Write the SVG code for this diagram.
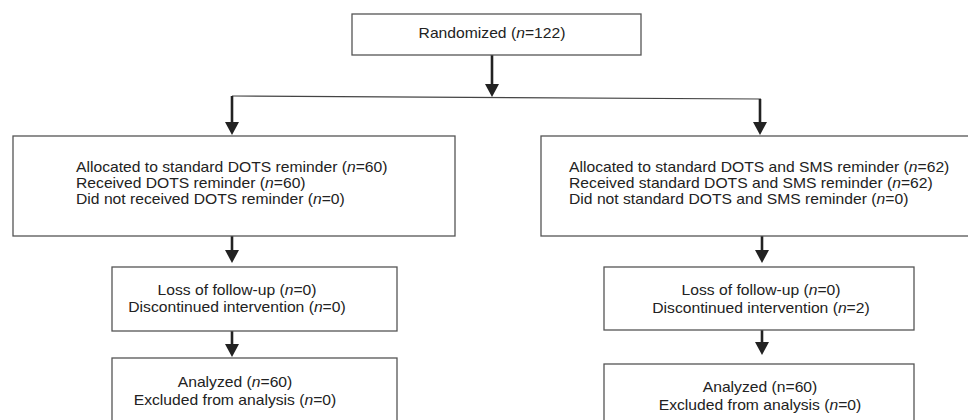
<svg xmlns="http://www.w3.org/2000/svg" width="968" height="420" viewBox="0 0 968 420">
<defs>
<style>
.box{fill:#fff;stroke:#555;stroke-width:1.3}
.t{font-family:"Liberation Sans",Arial,sans-serif;font-size:14px;fill:#222}
.c{text-anchor:middle}
.arr{stroke:#222;stroke-width:2.6;fill:none}
.ln{stroke:#444;stroke-width:1.2;fill:none}
.hd{fill:#222}
</style>
</defs>
<rect width="968" height="420" fill="#fff"/>
<g id="connectors">
<line class="ln" x1="232" y1="96" x2="761" y2="99"/>
<line class="arr" x1="492" y1="55" x2="492" y2="84"/>
<path class="hd" d="M485,84 L499,84 L492,97 Z"/>
<line class="arr" x1="232" y1="96" x2="232" y2="122"/>
<path class="hd" d="M225,122 L239,122 L232,135 Z"/>
<line class="arr" x1="760" y1="99" x2="760" y2="122"/>
<path class="hd" d="M753,122 L767,122 L760,135 Z"/>
<line class="arr" x1="232" y1="236" x2="232" y2="250"/>
<path class="hd" d="M225,250 L239,250 L232,263 Z"/>
<line class="arr" x1="762" y1="236" x2="762" y2="250"/>
<path class="hd" d="M755,250 L769,250 L762,263 Z"/>
<line class="arr" x1="232" y1="331" x2="232" y2="344"/>
<path class="hd" d="M225,344 L239,344 L232,357 Z"/>
<line class="arr" x1="762" y1="330" x2="762" y2="342"/>
<path class="hd" d="M755,342 L769,342 L762,355 Z"/>
</g>
<g id="randomized">
<rect class="box" x="352" y="14" width="289" height="41"/>
<g transform="translate(492,0) scale(1.12,1)">
<text class="t c" x="0" y="38">Randomized (<tspan font-style="italic">n</tspan>=122)</text>
</g>
</g>
<g id="alloc-dots">
<rect class="box" x="13" y="136" width="442" height="100"/>
<g transform="translate(76,0) scale(1.12,1)">
<text class="t" x="0" y="172">Allocated to standard DOTS reminder (<tspan font-style="italic">n</tspan>=60)</text>
<text class="t" x="0" y="188">Received DOTS reminder (<tspan font-style="italic">n</tspan>=60)</text>
<text class="t" x="0" y="204">Did not received DOTS reminder (<tspan font-style="italic">n</tspan>=0)</text>
</g>
</g>
<g id="alloc-sms">
<rect class="box" x="541" y="136" width="430" height="100"/>
<g transform="translate(569,0) scale(1.12,1)">
<text class="t" x="0" y="172">Allocated to standard DOTS and SMS reminder (<tspan font-style="italic">n</tspan>=62)</text>
<text class="t" x="0" y="188">Received standard DOTS and SMS reminder (<tspan font-style="italic">n</tspan>=62)</text>
<text class="t" x="0" y="204">Did not standard DOTS and SMS reminder (<tspan font-style="italic">n</tspan>=0)</text>
</g>
</g>
<g id="followup-dots">
<rect class="box" x="112" y="267" width="285" height="64"/>
<g transform="translate(237,0) scale(1.12,1)">
<text class="t c" x="0" y="295">Loss of follow-up (<tspan font-style="italic">n</tspan>=0)</text>
<text class="t c" x="0" y="312">Discontinued intervention (<tspan font-style="italic">n</tspan>=0)</text>
</g>
</g>
<g id="followup-sms">
<rect class="box" x="604" y="267" width="310" height="63"/>
<g transform="translate(761,0) scale(1.12,1)">
<text class="t c" x="0" y="295">Loss of follow-up (<tspan font-style="italic">n</tspan>=0)</text>
<text class="t c" x="0" y="313">Discontinued intervention (<tspan font-style="italic">n</tspan>=2)</text>
</g>
</g>
<g id="analyzed-dots">
<rect class="box" x="112" y="358" width="285" height="70"/>
<g transform="translate(235,0) scale(1.12,1)">
<text class="t c" x="0" y="387">Analyzed (<tspan font-style="italic">n</tspan>=60)</text>
<text class="t c" x="0" y="405">Excluded from analysis (<tspan font-style="italic">n</tspan>=0)</text>
</g>
</g>
<g id="analyzed-sms">
<rect class="box" x="604" y="364" width="310" height="70"/>
<g transform="translate(760,0) scale(1.12,1)">
<text class="t c" x="0" y="392">Analyzed (n=60)</text>
<text class="t c" x="0" y="410">Excluded from analysis (<tspan font-style="italic">n</tspan>=0)</text>
</g>
</g>
</svg>
